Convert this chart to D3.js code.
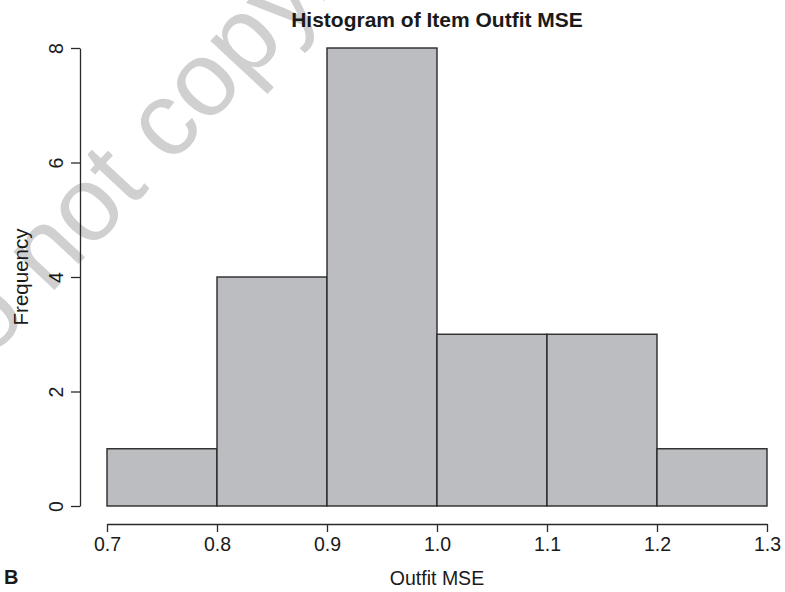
<!DOCTYPE html>
<html>
<head>
<meta charset="utf-8">
<script src="https://cdn.jsdelivr.net/npm/d3@7"></script>
<style>
  html, body { margin: 0; padding: 0; background: #fff; }
  svg { display: block; font-family: "Liberation Sans", Arial, sans-serif; }
</style>
</head>
<body>
<svg id="chart" width="785" height="592"></svg>
<script>
// histogram bins (left edge, right edge) and counts
const binStarts = [0.7, 0.8, 0.9, 1.0, 1.1, 1.2];
const binEnds = [0.8, 0.9, 1.0, 1.1, 1.2, 1.3];
const counts = [1, 4, 8, 3, 3, 1];
const xTicks = [0.7, 0.8, 0.9, 1.0, 1.1, 1.2, 1.3];
const yTicks = [0, 2, 4, 6, 8];

const svg = d3.select('#chart');
const font = '"Liberation Sans", Arial, sans-serif';

// plot region (in px)
const margin = { top: 48, right: 18, bottom: 86, left: 107 };
const width = 785;
const height = 592;

const x = d3.scaleLinear().domain([0.7, 1.3]).range([margin.left, width - margin.right]);
const y = d3.scaleLinear().domain([0, 8]).range([height - margin.bottom, margin.top]);

// watermark, drawn first so everything else sits on top
svg.append('text')
  .attr('transform', 'translate(-63,416) rotate(-47)')
  .attr('fill', '#d0d0d0')
  .style('font-size', '106px')
  .text('Do not copy.');

// bars
const bins = binStarts.map((s, i) => ({ x0: s, x1: binEnds[i], n: counts[i] }));
svg.append('g')
  .selectAll('rect')
  .data(bins)
  .join('rect')
  .attr('x', d => x(d.x0))
  .attr('y', d => y(d.n))
  .attr('width', d => x(d.x1) - x(d.x0))
  .attr('height', d => y(0) - y(d.n))
  .attr('fill', '#bcbdc1')
  .attr('stroke', '#2a2a2a')
  .attr('stroke-width', 1.4);

// x axis (R style: detached below the bars)
const xAxis = d3.axisBottom(x)
  .tickValues(xTicks)
  .tickFormat(d3.format('.1f'))
  .tickSizeOuter(0)
  .tickSizeInner(8)
  .tickPadding(5);

svg.append('g')
  .attr('transform', `translate(0,${y(0) + 18})`)
  .call(xAxis)
  .call(g => g.select('.domain').attr('stroke', '#2a2a2a').attr('stroke-width', 1.3))
  .call(g => g.selectAll('.tick line').attr('stroke', '#2a2a2a').attr('stroke-width', 1.3))
  .call(g => g.selectAll('.tick text')
    .attr('fill', '#1a1a1a')
    .style('font-size', '19.5px')
    .style('font-family', font));

// y axis, labels parallel to the axis
const yAxis = d3.axisLeft(y)
  .tickValues(yTicks)
  .tickSizeOuter(0)
  .tickSizeInner(9)
  .tickPadding(0);

svg.append('g')
  .attr('transform', `translate(${margin.left - 27},0)`)
  .call(yAxis)
  .call(g => g.select('.domain').attr('stroke', '#2a2a2a').attr('stroke-width', 1.3))
  .call(g => g.selectAll('.tick line').attr('stroke', '#2a2a2a').attr('stroke-width', 1.3))
  .call(g => g.selectAll('.tick text')
    .attr('x', 0)
    .attr('y', -17)
    .attr('dy', null)
    .attr('transform', 'rotate(-90)')
    .attr('text-anchor', 'middle')
    .attr('fill', '#1a1a1a')
    .style('font-size', '19.5px')
    .style('font-family', font));

// titles
svg.append('text')
  .attr('x', x(1.0))
  .attr('y', 27)
  .attr('text-anchor', 'middle')
  .attr('fill', '#1a1a1a')
  .style('font-size', '21px')
  .style('font-weight', 'bold')
  .text('Histogram of Item Outfit MSE');

svg.append('text')
  .attr('x', x(1.0))
  .attr('y', 585)
  .attr('text-anchor', 'middle')
  .attr('fill', '#1a1a1a')
  .style('font-size', '19.5px')
  .text('Outfit MSE');

svg.append('text')
  .attr('transform', `translate(28,${(y(0) + y(8)) / 2}) rotate(-90)`)
  .attr('text-anchor', 'middle')
  .attr('fill', '#1a1a1a')
  .style('font-size', '20.5px')
  .text('Frequency');

svg.append('text')
  .attr('x', 4)
  .attr('y', 584)
  .attr('fill', '#1a1a1a')
  .style('font-size', '20px')
  .style('font-weight', 'bold')
  .text('B');
</script>
</body>
</html>
